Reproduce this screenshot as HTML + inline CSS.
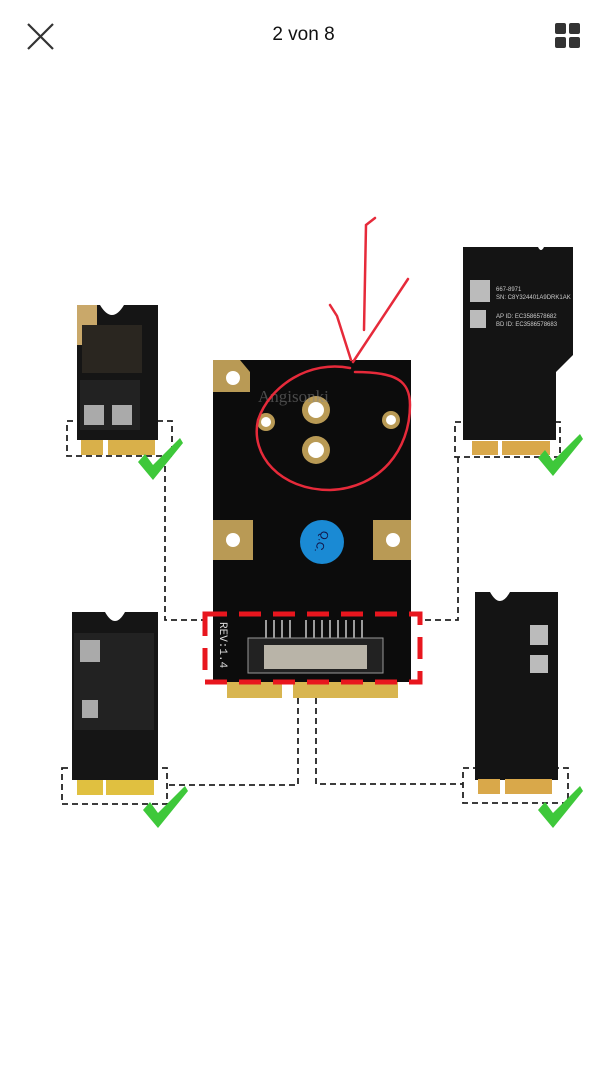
<!DOCTYPE html>
<html><head><meta charset="utf-8"><style>
html,body{margin:0;padding:0;background:#fff;}
body{width:607px;height:1080px;overflow:hidden;position:relative;font-family:"Liberation Sans",sans-serif;}
.t{position:absolute;top:24px;left:0;width:607px;text-align:center;font-size:19px;color:#111;}
</style></head><body>
<div class="t">2 von 8</div>
<svg width="607" height="1080" style="position:absolute;left:0;top:0">
<g stroke="#333" stroke-width="2.2"><line x1="28" y1="24" x2="53" y2="49"/><line x1="53" y1="24" x2="28" y2="49"/></g>
<g fill="#333"><rect x="555" y="23" width="11" height="11" rx="2"/><rect x="569" y="23" width="11" height="11" rx="2"/><rect x="555" y="37" width="11" height="11" rx="2"/><rect x="569" y="37" width="11" height="11" rx="2"/></g>

<g fill="none" stroke="#222" stroke-width="1.8" stroke-dasharray="6,4">
<polyline points="165,456 165,620 205,620"/>
<polyline points="458,457 458,620 420,620"/>
<polyline points="298,698 298,785 167,785"/>
<polyline points="316,698 316,784 463,784"/>
<rect x="67" y="421" width="105" height="35"/>
<rect x="455" y="422" width="105" height="35"/>
<rect x="62" y="768" width="105" height="36"/>
<rect x="463" y="768" width="105" height="35"/>
</g>

<path d="M77,305 L100,305 Q112,325 124,305 L158,305 L158,440 L77,440 Z" fill="#151515"/>
<rect x="77" y="305" width="20" height="40" fill="#c9a86a"/>
<rect x="82" y="325" width="60" height="48" fill="#2a2620"/>
<rect x="80" y="380" width="60" height="50" fill="#222"/>
<rect x="84" y="405" width="20" height="20" fill="#aaa"/><rect x="112" y="405" width="20" height="20" fill="#aaa"/>
<rect x="81" y="440" width="22" height="15" fill="#d9b04a"/><rect x="108" y="440" width="47" height="15" fill="#d9b04a"/>

<path d="M463,247 L538,247 Q541,253 544,247 L573,247 L573,355 L556,372 L556,440 L463,440 Z" fill="#141414"/>
<rect x="470" y="280" width="20" height="22" fill="#bbb"/><rect x="470" y="310" width="16" height="18" fill="#bbb"/>
<text x="496" y="291" font-size="6" fill="#ccc">667-8971</text><text x="496" y="299" font-size="6" fill="#ccc">SN: C8Y324401A9DRK1AK</text>
<text x="496" y="318" font-size="6" fill="#ccc">AP ID: EC3586578682</text><text x="496" y="326" font-size="6" fill="#ccc">BD ID: EC3586578683</text>
<rect x="472" y="441" width="26" height="14" fill="#d9a84a"/><rect x="502" y="441" width="48" height="14" fill="#d9a84a"/>

<path d="M72,612 L105,612 Q115,630 125,612 L158,612 L158,780 L72,780 Z" fill="#151515"/>
<rect x="74" y="633" width="80" height="97" fill="#222"/>
<rect x="80" y="640" width="20" height="22" fill="#aaa"/><rect x="82" y="700" width="16" height="18" fill="#aaa"/>
<rect x="77" y="780" width="26" height="15" fill="#e0c040"/><rect x="106" y="780" width="48" height="15" fill="#e0c040"/>

<path d="M475,592 L490,592 Q500,610 510,592 L558,592 L558,780 L475,780 Z" fill="#141414"/>
<rect x="530" y="625" width="18" height="20" fill="#bbb"/><rect x="530" y="655" width="18" height="18" fill="#bbb"/>
<rect x="478" y="779" width="22" height="15" fill="#d9a84a"/><rect x="505" y="779" width="47" height="15" fill="#d9a84a"/>

<g fill="#3ec83a">
<path d="M138,462 L145,454 L153,465 L180,438 L183,443 L153,480 Z"/>
<path d="M538,458 L545,450 L553,461 L580,434 L583,439 L553,476 Z"/>
<path d="M143,810 L150,802 L158,813 L185,786 L188,791 L158,828 Z"/>
<path d="M538,810 L545,802 L553,813 L580,786 L583,791 L553,828 Z"/>
</g>

<rect x="213" y="360" width="198" height="322" fill="#0c0c0c"/>
<path d="M213,360 L240,360 L250,372 L250,392 L213,392 Z" fill="#b99a55"/>
<circle cx="233" cy="378" r="7" fill="#fff"/>
<g fill="#b99a55"><circle cx="316" cy="410" r="14"/><circle cx="316" cy="450" r="14"/><circle cx="266" cy="422" r="9"/><circle cx="391" cy="420" r="9"/></g>
<g fill="#fff"><circle cx="316" cy="410" r="8"/><circle cx="316" cy="450" r="8"/><circle cx="266" cy="422" r="5"/><circle cx="391" cy="420" r="5"/></g>
<rect x="213" y="520" width="40" height="40" fill="#b99a55"/><circle cx="233" cy="540" r="7" fill="#fff"/>
<rect x="373" y="520" width="38" height="40" fill="#b99a55"/><circle cx="393" cy="540" r="7" fill="#fff"/>
<circle cx="322" cy="542" r="22" fill="#1a8ad4"/>
<text x="322" y="546" font-size="11" fill="#114" text-anchor="middle" transform="rotate(110 322 542)">Q.C.</text>
<text x="220" y="622" font-size="11" fill="#ddd" font-family="Liberation Mono" transform="rotate(90 220 622)">REV:1.4</text>
<g stroke="#ccc" stroke-width="1.5"><line x1="266" y1="620" x2="266" y2="640"/><line x1="274" y1="620" x2="274" y2="640"/><line x1="282" y1="620" x2="282" y2="640"/><line x1="290" y1="620" x2="290" y2="640"/><line x1="306" y1="620" x2="306" y2="640"/><line x1="314" y1="620" x2="314" y2="640"/><line x1="322" y1="620" x2="322" y2="640"/><line x1="330" y1="620" x2="330" y2="640"/><line x1="338" y1="620" x2="338" y2="640"/><line x1="346" y1="620" x2="346" y2="640"/><line x1="354" y1="620" x2="354" y2="640"/><line x1="362" y1="620" x2="362" y2="640"/></g>
<rect x="248" y="638" width="135" height="35" fill="#222" stroke="#999"/>
<rect x="264" y="645" width="103" height="24" fill="#b9b4a8"/>
<rect x="227" y="682" width="55" height="16" fill="#d8b550"/><rect x="293" y="682" width="105" height="16" fill="#d8b550"/>
<rect x="205" y="614" width="215" height="68" fill="none" stroke="#e8161e" stroke-width="5" stroke-dasharray="22,12"/>
<text x="258" y="402" font-size="17" fill="#888" opacity="0.5" font-family="Liberation Serif">Angisonki</text>

<g fill="none" stroke="#e62a3a" stroke-width="2.5" stroke-linecap="round">
<path d="M375,218 L366,225 L364,330"/>
<path d="M408,279 L353,362"/>
<path d="M330,305 L337,316 L351,360"/>
<path d="M350,368 C310,360 270,385 258,420 C250,455 280,490 330,490 C380,488 410,450 410,405 C410,380 395,372 355,372"/>
</g>
</svg>
</body></html>
